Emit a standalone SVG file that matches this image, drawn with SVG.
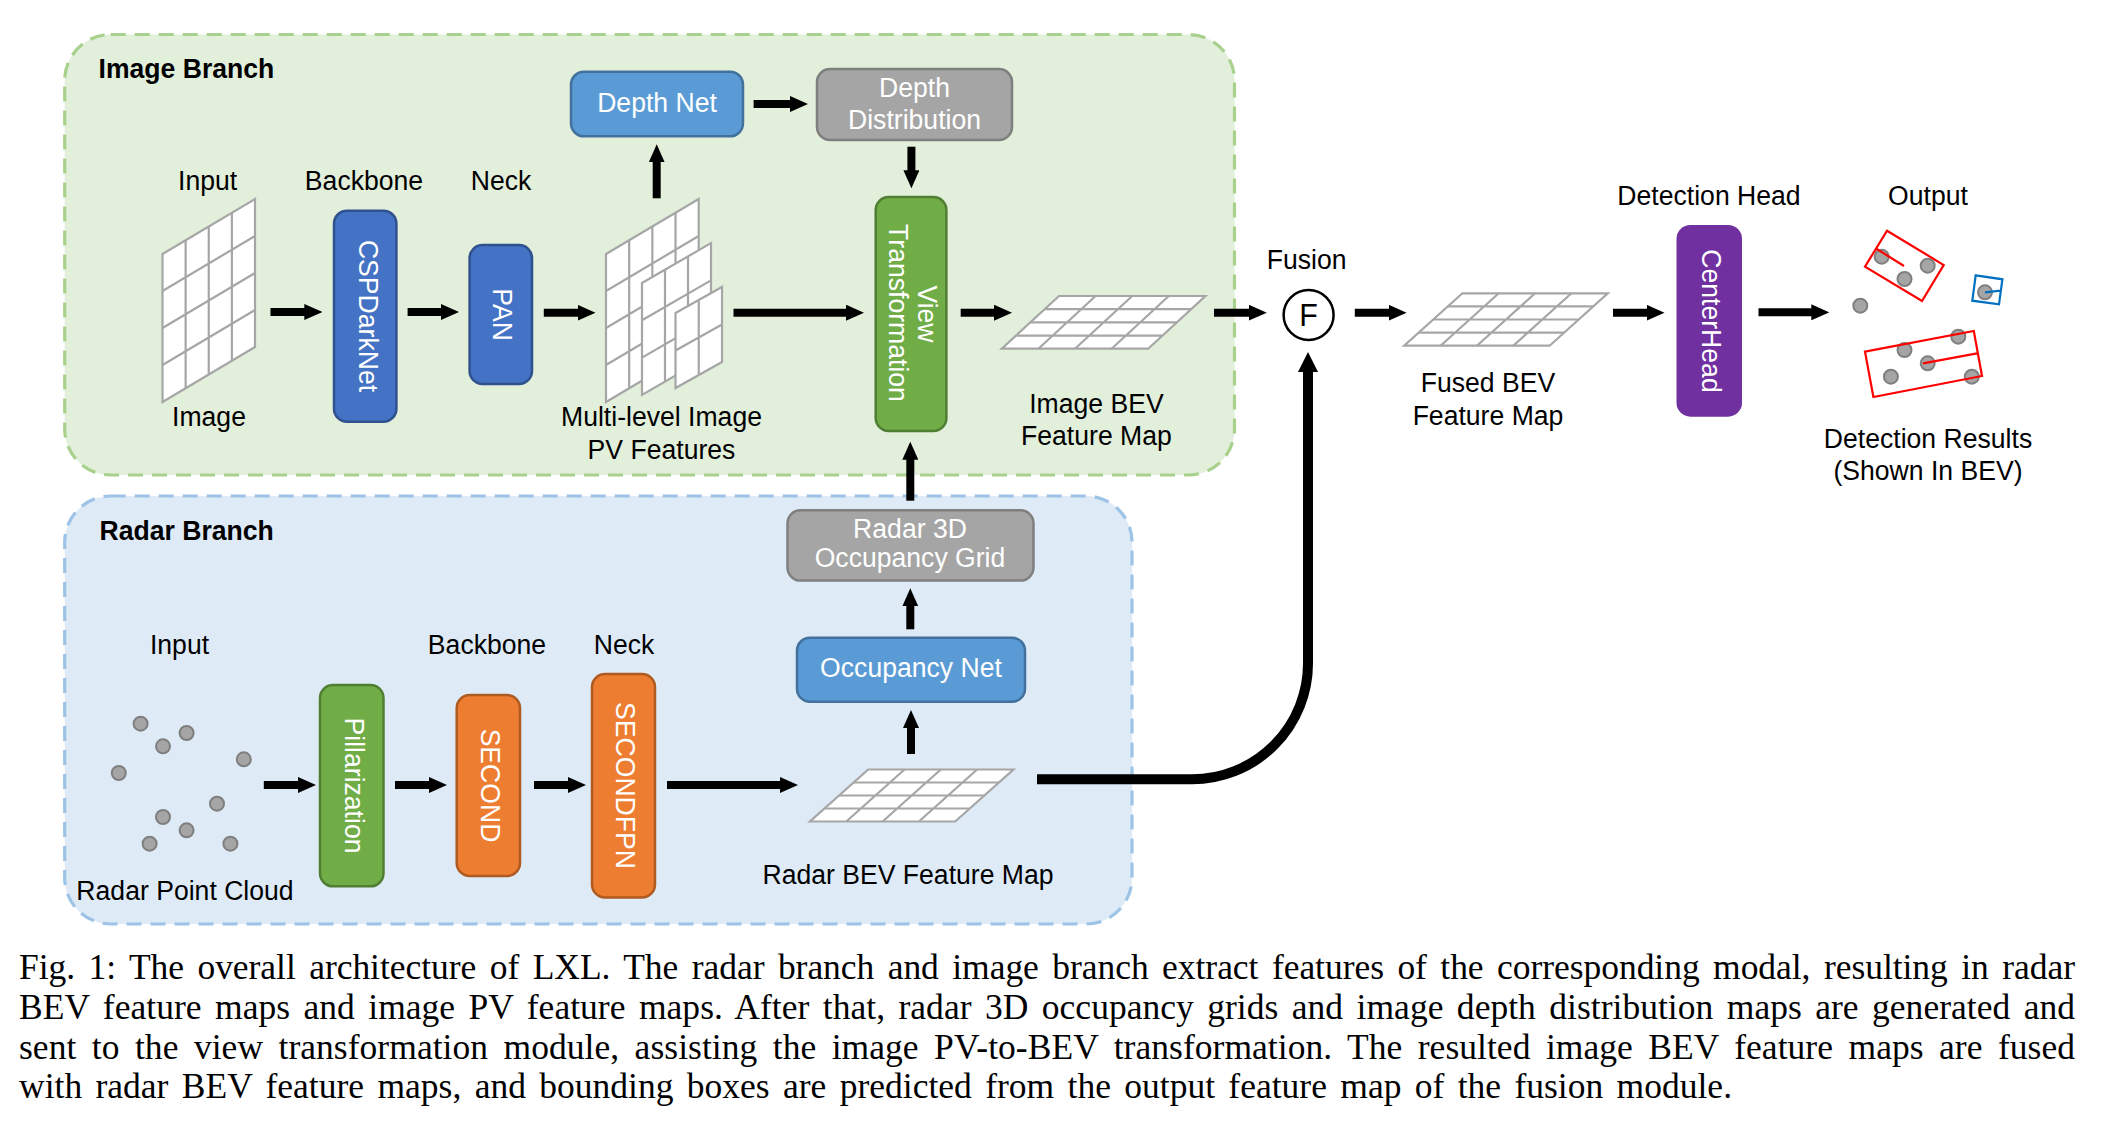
<svg xmlns="http://www.w3.org/2000/svg" xmlns:xlink="http://www.w3.org/1999/xlink" width="2110" height="1147" viewBox="0 0 2110 1147">
<style>
text{font-family:"Liberation Sans",Arial,sans-serif;font-size:28px;fill:#000}
.m{text-anchor:middle}
.b{font-weight:bold}
.w{fill:#fff}
.cap{font-family:"Liberation Serif","Times New Roman",serif;font-size:35.5px}
.box{stroke-width:2.5}
.blue{fill:#4472c4;stroke:#2f528f}
.sky{fill:#5b9bd5;stroke:#41719c}
.gray{fill:#a5a5a5;stroke:#7f7f7f}
.green{fill:#70ad47;stroke:#507e32}
.orange{fill:#ed7d31;stroke:#ae5a21}
.a{stroke:#000;stroke-width:8;fill:none;marker-end:url(#h)}
.grid rect{fill:#fff}
.grid *{stroke:#a6a6a6;stroke-width:2.2;vector-effect:non-scaling-stroke}
.d{fill:#a5a5a5;stroke:#7f7f7f;stroke-width:2}
.r{fill:none;stroke:#f00;stroke-width:2.2}
.rb{fill:none;stroke:#0070c0;stroke-width:2.2}
</style>
<defs>
<marker id="h" viewBox="0 0 18 16" markerWidth="18" markerHeight="16" refX="1" refY="8" orient="auto" markerUnits="userSpaceOnUse"><path d="M0 0L18 8L0 16Z" fill="#000"/></marker>
<marker id="th" viewBox="0 0 20 20" markerWidth="20" markerHeight="20" refX="1" refY="10" orient="auto" markerUnits="userSpaceOnUse"><path d="M0 0L20 10L0 20Z" fill="#000"/></marker>
<g id="g4" class="grid"><rect width="4" height="4"/><path d="M1 0V4M2 0V4M3 0V4M0 1H4M0 2H4M0 3H4" fill="none"/></g>
<g id="g3" class="grid"><rect width="3" height="3"/><path d="M1 0V3M2 0V3M0 1H3M0 2H3" fill="none"/></g>
<g id="g2" class="grid"><rect width="2" height="2"/><path d="M1 0V2M0 1H2" fill="none"/></g>
</defs>
<rect width="2110" height="1147" fill="#fff"/>

<g id="image-branch">
<rect x="64.7" y="34.5" width="1169.8" height="440.5" rx="46" fill="#e2efda" stroke="#a9d18e" stroke-width="3.2" stroke-dasharray="15 9"/>
<text class="b" transform="matrix(.95 0 0 1 98.5 78)">Image Branch</text>
</g>
<g id="radar-branch">
<rect x="64.7" y="496" width="1067.3" height="428" rx="46" fill="#deebf7" stroke="#9dc3e6" stroke-width="3.2" stroke-dasharray="15 9"/>
<text class="b" transform="matrix(.95 0 0 1 99.5 540)">Radar Branch</text>
</g>

<g id="connectors">
<line class="a" x1="270.5" y1="312" x2="305.3" y2="312"/>
<line class="a" x1="407.6" y1="312" x2="442" y2="312"/>
<line class="a" x1="543.8" y1="312.7" x2="578.5" y2="312.7"/>
<line class="a" x1="733.5" y1="312.7" x2="847" y2="312.7"/>
<line class="a" x1="753.6" y1="104" x2="791" y2="104"/>
<line class="a" x1="960.7" y1="312.7" x2="995" y2="312.7"/>
<line class="a" x1="1214" y1="312.7" x2="1249.8" y2="312.7"/>
<line class="a" x1="1354.8" y1="312.7" x2="1389.6" y2="312.7"/>
<line class="a" x1="1613" y1="312.7" x2="1647.5" y2="312.7"/>
<line class="a" x1="1758.5" y1="312.3" x2="1812.3" y2="312.3"/>
<line class="a" x1="656.7" y1="198.3" x2="656.7" y2="161.3"/>
<line class="a" x1="911.4" y1="146.7" x2="911.4" y2="171.3"/>
<line class="a" x1="910.3" y1="500.7" x2="910.3" y2="458.7"/>
<line class="a" x1="910.3" y1="629.3" x2="910.3" y2="605.3"/>
<line class="a" x1="911" y1="754" x2="911" y2="727"/>
<line class="a" x1="263.8" y1="785" x2="299" y2="785"/>
<line class="a" x1="395" y1="785" x2="430" y2="785"/>
<line class="a" x1="534" y1="785" x2="569" y2="785"/>
<line class="a" x1="667" y1="785" x2="781" y2="785"/>
<path d="M1037 779.3H1192A116 116 0 0 0 1308 663.3V371" fill="none" stroke="#000" stroke-width="10" marker-end="url(#th)"/>
</g>

<g id="input-image">
<text class="m" transform="matrix(.95 0 0 1 207.6 189.5)">Input</text>
<use xlink:href="#g4" href="#g4" transform="matrix(23.125 -13.75 0 37 162.5 254)"/>
<text class="m" transform="matrix(.95 0 0 1 209 426)">Image</text>
</g>
<g id="cspdarknet">
<text class="m" transform="matrix(.95 0 0 1 364 189.5)">Backbone</text>
<rect class="box blue" x="334" y="210.7" width="62.4" height="211" rx="13"/>
<text class="m w" transform="matrix(0 .95 -1 0 359 316)">CSPDarkNet</text>
</g>
<g id="pan">
<text class="m" transform="matrix(.95 0 0 1 501 189.5)">Neck</text>
<rect class="box blue" x="469.6" y="245" width="62.4" height="139" rx="13"/>
<text class="m w" transform="matrix(0 .95 -1 0 493 314.5)">PAN</text>
</g>
<g id="pv-features">
<use xlink:href="#g4" href="#g4" transform="matrix(23.175 -13.75 0 37 606 254)"/>
<use xlink:href="#g3" href="#g3" transform="matrix(23 -13.3 0 37.3 642 283)"/>
<use xlink:href="#g2" href="#g2" transform="matrix(23.25 -13 0 37.5 675.5 313)"/>
<text class="m" transform="matrix(.95 0 0 1 661.5 426)">Multi-level Image</text>
<text class="m" transform="matrix(.95 0 0 1 661.5 458.5)">PV Features</text>
</g>
<g id="depth-net">
<rect class="box sky" x="571" y="71.7" width="172" height="64.6" rx="13"/>
<text class="m w" transform="matrix(.95 0 0 1 657 111.5)">Depth Net</text>
</g>
<g id="depth-distribution">
<rect class="box gray" x="817" y="69" width="195" height="71" rx="13"/>
<text class="m w" transform="matrix(.95 0 0 1 914.5 97)">Depth</text>
<text class="m w" transform="matrix(.95 0 0 1 914.5 129)">Distribution</text>
</g>
<g id="view-transformation">
<rect class="box green" x="875.7" y="197" width="70.7" height="234" rx="13"/>
<text class="m w" transform="matrix(0 .95 -1 0 918 314)">View</text>
<text class="m w" transform="matrix(0 .95 -1 0 889 313)">Transformation</text>
</g>
<g id="image-bev">
<use xlink:href="#g4" href="#g4" transform="matrix(36.6 0 -14.3 13.175 1059 296)"/>
<text class="m" transform="matrix(.95 0 0 1 1096.4 412.5)">Image BEV</text>
<text class="m" transform="matrix(.95 0 0 1 1096.4 444.5)">Feature Map</text>
</g>
<g id="fusion">
<text class="m" transform="matrix(.95 0 0 1 1306.7 269)">Fusion</text>
<circle cx="1308.6" cy="315" r="25" fill="#fff" stroke="#000" stroke-width="2.5"/>
<text class="m" transform="matrix(.95 0 0 1 1308.6 326)" style="font-size:32px">F</text>
</g>
<g id="fused-bev">
<use xlink:href="#g4" href="#g4" transform="matrix(36.35 0 -14.55 13.1 1462.4 293.3)"/>
<text class="m" transform="matrix(.95 0 0 1 1488 392)">Fused BEV</text>
<text class="m" transform="matrix(.95 0 0 1 1488 424.5)">Feature Map</text>
</g>
<g id="centerhead">
<text class="m" transform="matrix(.95 0 0 1 1709 204.5)">Detection Head</text>
<rect x="1676.5" y="225" width="65.5" height="191.7" rx="14" fill="#7030a0"/>
<text class="m w" transform="matrix(0 .95 -1 0 1702 321)">CenterHead</text>
</g>
<g id="output">
<text class="m" transform="matrix(.95 0 0 1 1928 204.5)">Output</text>
<circle class="d" cx="1860.3" cy="305.7" r="7"/>
<circle class="d" cx="1881.7" cy="256.7" r="7"/>
<circle class="d" cx="1927.7" cy="265.7" r="7"/>
<circle class="d" cx="1904.5" cy="279" r="7"/>
<circle class="d" cx="1985" cy="292.3" r="7"/>
<circle class="d" cx="1904.5" cy="350" r="7"/>
<circle class="d" cx="1958.3" cy="336.7" r="7"/>
<circle class="d" cx="1927.7" cy="363.3" r="7"/>
<circle class="d" cx="1890.9" cy="376.7" r="7"/>
<circle class="d" cx="1971.8" cy="376.7" r="7"/>
<path class="r" d="M1887 230.7L1943.7 265L1922 301L1865 266.7ZM1876.8 249L1904 266"/>
<path class="r" d="M1865 351.7L1973.8 331L1982 376L1873.4 397ZM1923 363.3L1977 353.3"/>
<path class="rb" d="M1975.7 275.3L2002.4 279.3L1999 304.3L1972.3 300.7ZM1985 292.3L2000.4 290.7"/>
<text class="m" transform="matrix(.95 0 0 1 1928 447.5)">Detection Results</text>
<text class="m" transform="matrix(.95 0 0 1 1928 479.5)">(Shown In BEV)</text>
</g>

<g id="radar-input">
<text class="m" transform="matrix(.95 0 0 1 179.5 654)">Input</text>
<circle class="d" cx="140.6" cy="723.7" r="7"/>
<circle class="d" cx="186.6" cy="733" r="7"/>
<circle class="d" cx="163" cy="746.3" r="7"/>
<circle class="d" cx="118.8" cy="773" r="7"/>
<circle class="d" cx="243.8" cy="759.3" r="7"/>
<circle class="d" cx="217" cy="803.7" r="7"/>
<circle class="d" cx="163" cy="817" r="7"/>
<circle class="d" cx="186.6" cy="830.3" r="7"/>
<circle class="d" cx="149.6" cy="843.7" r="7"/>
<circle class="d" cx="230.4" cy="843.7" r="7"/>
<text class="m" transform="matrix(.95 0 0 1 185 900)">Radar Point Cloud</text>
</g>
<g id="pillarization">
<rect class="box green" x="320" y="685" width="63.5" height="201.3" rx="13"/>
<text class="m w" transform="matrix(0 .95 -1 0 344.5 785.5)">Pillarization</text>
</g>
<g id="second">
<text class="m" transform="matrix(.95 0 0 1 487 654)">Backbone</text>
<rect class="box orange" x="456.7" y="695" width="63.3" height="181" rx="13"/>
<text class="m w" transform="matrix(0 .95 -1 0 480.5 785.5)">SECOND</text>
</g>
<g id="secondfpn">
<text class="m" transform="matrix(.95 0 0 1 624 654)">Neck</text>
<rect class="box orange" x="592" y="674" width="63" height="223.5" rx="13"/>
<text class="m w" transform="matrix(0 .95 -1 0 616 785.5)">SECONDFPN</text>
</g>
<g id="radar-occupancy-grid">
<rect class="box gray" x="787.5" y="510.3" width="246" height="70.3" rx="13"/>
<text class="m w" transform="matrix(.95 0 0 1 910 538)">Radar 3D</text>
<text class="m w" transform="matrix(.95 0 0 1 910 567)">Occupancy Grid</text>
</g>
<g id="occupancy-net">
<rect class="box sky" x="797" y="637.7" width="228" height="64" rx="13"/>
<text class="m w" transform="matrix(.95 0 0 1 911 676.5)">Occupancy Net</text>
</g>
<g id="radar-bev">
<use xlink:href="#g4" href="#g4" transform="matrix(36.3 0 -14.55 13 868.2 769.5)"/>
<text class="m" transform="matrix(.95 0 0 1 908 883.5)">Radar BEV Feature Map</text>
</g>

<g id="caption">
<text class="cap" x="19" y="979.3" word-spacing="4.63" textLength="2056">Fig. 1: The overall architecture of LXL. The radar branch and image branch extract features of the corresponding modal, resulting in radar</text>
<text class="cap" x="19" y="1019.3" word-spacing="4.53" textLength="2056">BEV feature maps and image PV feature maps. After that, radar 3D occupancy grids and image depth distribution maps are generated and</text>
<text class="cap" x="19" y="1059.3" word-spacing="6.53" textLength="2056">sent to the view transformation module, assisting the image PV-to-BEV transformation. The resulted image BEV feature maps are fused</text>
<text class="cap" x="19" y="1098.3" word-spacing="4.46" textLength="1713">with radar BEV feature maps, and bounding boxes are predicted from the output feature map of the fusion module.</text>
</g>
</svg>
